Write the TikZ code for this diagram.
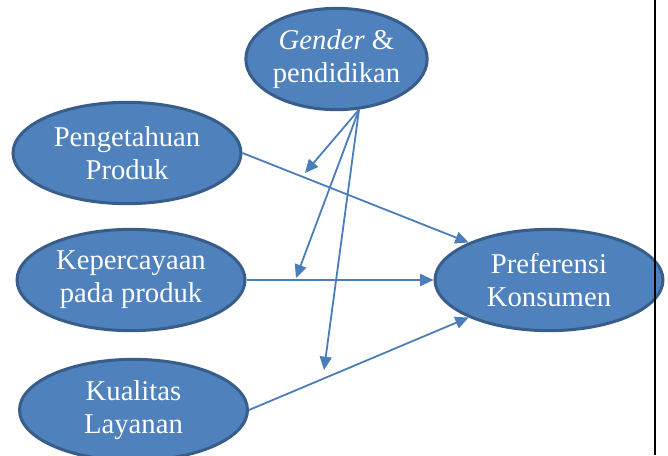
\documentclass[tikz,border=0pt]{standalone}
\usepackage{fontspec}
\setmainfont{Liberation Serif}
\usetikzlibrary{shapes.geometric,arrows.meta}
\definecolor{fillblue}{HTML}{4F81BD}
\definecolor{edgeblue}{HTML}{385D8A}
\definecolor{arrowblue}{HTML}{4A7EBB}
\tikzset{
  oval/.style={ellipse, fill=fillblue, draw=edgeblue, line width=2.25pt,
    minimum width=171pt, minimum height=76pt, inner sep=0pt,
    text=white, align=center, font=\fontsize{21.5}{24.75}\selectfont},
  link/.style={draw=arrowblue, line width=1.35pt,
    -{Triangle[length=10pt,width=9pt]}}
}
\begin{document}
\begin{tikzpicture}[x=0.75pt,y=-0.75pt]
\useasboundingbox (0,0) rectangle (668,455);
\clip (0,0) rectangle (668,455);
\node[oval, minimum width=136pt] (gen) at (336.5,59) {\textit{Gender} \&\\pendidikan};
\node[oval] (peng) at (127,153) {Pengetahuan\\Produk};
\node[oval] (kep) at (131,280) {Kepercayaan\\pada produk};
\node[oval] (kual) at (133.5,410) {Kualitas\\Layanan};
\node[oval] (pref) at (549,280) {Preferensi\\Konsumen};
\draw[line width=1.6pt] (655,0) -- (655,455);
\draw[link] (peng.east) -- (pref.155);
\draw[link] (kep.east) -- (pref.west);
\draw[link] (kual.east) -- (pref.205);
\coordinate (g) at (gen.294);
\coordinate (t1) at (305,173);
\coordinate (t2) at (296,278);
\coordinate (t3) at (324,370);
\draw[link] (g) -- (t1);
\draw[link] (g) -- (t2);
\draw[link] (g) -- (t3);
\end{tikzpicture}
\end{document}
